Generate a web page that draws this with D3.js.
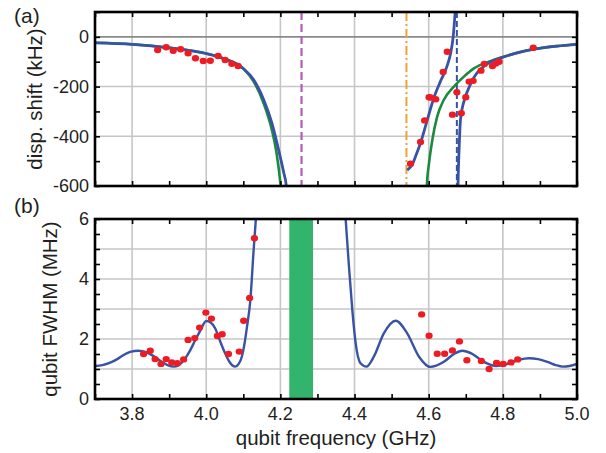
<!DOCTYPE html>
<html>
<head>
<meta charset="utf-8">
<script src="https://cdn.jsdelivr.net/npm/d3@7"></script>
<style>
  body { margin: 0; background: #fff; }
  text { font-family: "Liberation Sans", Arial, sans-serif; fill: #231f20; }
</style>
</head>
<body>
<div id="container"></div>
<script>
// ---- data ----
// x ticks (GHz)
var freqTicks = [3.8, 4.0, 4.2, 4.4, 4.6, 4.8, 5.0];
var shiftTicks = [0, -200, -400, -600];
var fwhmTicks = [0, 2, 4, 6];

// (a) dispersive shift: measured points [GHz, kHz]
var shiftPoints = [
  [3.869, -53], [3.892, -42], [3.911, -56], [3.931, -50], [3.951, -66], [3.971, -86],
  [3.992, -97], [4.011, -96], [4.032, -77], [4.051, -93], [4.069, -108], [4.086, -117],
  [4.551, -510], [4.578, -423], [4.589, -336], [4.601, -243], [4.605, -244], [4.619, -251],
  [4.639, -141], [4.650, -60], [4.664, -313], [4.676, -223], [4.688, -307], [4.700, -243],
  [4.709, -180], [4.720, -177], [4.741, -136], [4.750, -109], [4.772, -117], [4.781, -107],
  [4.790, -100], [4.882, -44]
];

// (a) full model (blue), three branches
var blueBranch1 = [[3.70, -24], [3.80, -30], [3.90, -44], [4.00, -67], [4.05, -89], [4.10, -127],
  [4.128, -173], [4.155, -253], [4.177, -346], [4.195, -453], [4.209, -546], [4.216, -600], [4.22, -680]];
var blueBranch2 = [[4.542, -536], [4.548, -528], [4.556, -513], [4.566, -475], [4.578, -427],
  [4.598, -325], [4.614, -245], [4.632, -178], [4.649, -120], [4.659, -67], [4.666, 0], [4.671, 93], [4.673, 140]];
var blueBranch3 = [[4.6782, -680], [4.679, -600], [4.682, -453], [4.686, -330], [4.695, -260],
  [4.709, -203], [4.722, -163], [4.741, -128], [4.768, -100], [4.804, -80], [4.858, -57],
  [4.903, -45], [4.948, -37], [5.0, -30]];

// (a) simple model (green), two branches
var greenBranch1 = [[3.70, -24], [3.80, -30], [3.90, -44], [4.00, -67], [4.05, -89], [4.10, -128],
  [4.128, -180], [4.155, -268], [4.177, -375], [4.19, -470], [4.20, -590], [4.205, -680]];
var greenBranch2 = [[4.593, -680], [4.595, -600], [4.601, -507], [4.610, -413], [4.623, -320],
  [4.641, -253], [4.668, -200], [4.695, -160], [4.722, -127], [4.768, -97], [4.804, -79],
  [4.858, -57], [4.903, -45], [4.948, -37], [5.0, -30]];

// (a) vertical markers (GHz)
var magentaLine = 4.257;
var orangeLine = 4.540;
var blueDashLine = 4.676;

// (b) linewidth: measured points [GHz, MHz]
var fwhmPoints = [
  [3.831, 1.50], [3.849, 1.61], [3.862, 1.33], [3.878, 1.17], [3.892, 1.33], [3.907, 1.22],
  [3.922, 1.19], [3.939, 1.32], [3.951, 1.97], [3.969, 2.03], [3.982, 2.38], [3.999, 2.88],
  [4.014, 2.68], [4.030, 2.10], [4.043, 2.16], [4.060, 1.50], [4.089, 1.58], [4.101, 2.61],
  [4.117, 3.37], [4.130, 5.36],
  [4.581, 2.82], [4.601, 2.11], [4.623, 1.51], [4.643, 1.51], [4.664, 1.62], [4.683, 1.92],
  [4.703, 1.29], [4.742, 1.27], [4.763, 1.00], [4.783, 1.20], [4.801, 1.17], [4.822, 1.22],
  [4.840, 1.32]
];

// (b) model curve, left and right of the gap
var fwhmLeft = [[3.70, 1.10], [3.72, 1.13], [3.741, 1.21], [3.76, 1.33], [3.776, 1.46],
  [3.795, 1.57], [3.817, 1.61], [3.838, 1.56], [3.858, 1.43], [3.88, 1.24], [3.897, 1.12],
  [3.912, 1.08], [3.926, 1.13], [3.942, 1.33], [3.957, 1.63], [3.970, 1.95], [3.984, 2.28],
  [4.000, 2.60], [4.012, 2.55], [4.024, 2.36], [4.038, 1.91], [4.05, 1.55], [4.062, 1.25],
  [4.078, 1.08], [4.088, 1.18], [4.096, 1.41], [4.104, 1.90], [4.11, 2.41], [4.119, 3.3],
  [4.128, 5.0], [4.134, 6.02], [4.139, 7.0]];
var fwhmRight = [[4.371, 7.0], [4.376, 6.0], [4.385, 4.41], [4.394, 2.97], [4.403, 1.86],
  [4.416, 1.19], [4.432, 1.08], [4.452, 1.41], [4.479, 2.19], [4.511, 2.61], [4.542, 2.19],
  [4.574, 1.41], [4.604, 1.07], [4.641, 1.24], [4.668, 1.50], [4.691, 1.61], [4.715, 1.52],
  [4.741, 1.30], [4.762, 1.16], [4.781, 1.10], [4.80, 1.13], [4.822, 1.21], [4.845, 1.31],
  [4.871, 1.36], [4.895, 1.33], [4.920, 1.24], [4.943, 1.13], [4.961, 1.08], [4.98, 1.10],
  [5.0, 1.17]];

// (b) shaded band (GHz)
var bandRange = [4.224, 4.288];

// ---- layout ----
var width = 606, height = 453;
var plotLeft = 95, plotRight = 577;
var panelA = {top: 12, bottom: 186};
var panelB = {top: 219, bottom: 399};

var blue = "#3953a4", green = "#1b8a3e", red = "#ed1c24";

var svg = d3.select("#container").append("svg")
    .attr("width", width)
    .attr("height", height);

var x = d3.scaleLinear().domain([3.7, 5.0]).range([plotLeft, plotRight]);
var yA = d3.scaleLinear().domain([-600, 100]).range([panelA.bottom, panelA.top]);
var yB = d3.scaleLinear().domain([0, 6]).range([panelB.bottom, panelB.top]);

var defs = svg.append("defs");
defs.append("clipPath").attr("id", "clipA").append("rect")
    .attr("x", plotLeft).attr("y", panelA.top)
    .attr("width", plotRight - plotLeft).attr("height", panelA.bottom - panelA.top);
defs.append("clipPath").attr("id", "clipB").append("rect")
    .attr("x", plotLeft).attr("y", panelB.top)
    .attr("width", plotRight - plotLeft).attr("height", panelB.bottom - panelB.top);

function drawGrid(g, y, yGrid, panel) {
    g.selectAll("line.vgrid").data(freqTicks.filter(function(d) { return d < 5.0; }))
        .enter().append("line")
        .attr("class", "vgrid")
        .attr("x1", function(d) { return x(d); }).attr("x2", function(d) { return x(d); })
        .attr("y1", panel.top).attr("y2", panel.bottom)
        .attr("stroke", "#c6c6c6").attr("stroke-width", 1.6);
    g.selectAll("line.hgrid").data(yGrid)
        .enter().append("line")
        .attr("class", "hgrid")
        .attr("x1", plotLeft).attr("x2", plotRight)
        .attr("y1", function(d) { return y(d); }).attr("y2", function(d) { return y(d); })
        .attr("stroke", "#c6c6c6").attr("stroke-width", 1.6);
}

function drawFrame(y, panel, yMinor, yLabels) {
    // inward ticks on all four sides
    var tickLen = 5;
    var g = svg.append("g");
    var xMinor = d3.range(37, 51).map(function(d) { return d / 10; });
    g.append("g")
        .attr("transform", "translate(0," + panel.bottom + ")")
        .call(d3.axisBottom(x).tickValues(xMinor).tickSize(-tickLen).tickFormat(""));
    g.append("g")
        .attr("transform", "translate(0," + panel.top + ")")
        .call(d3.axisTop(x).tickValues(xMinor).tickSize(-tickLen).tickFormat(""));
    g.append("g")
        .attr("transform", "translate(" + plotLeft + ",0)")
        .call(d3.axisLeft(y).tickValues(yMinor).tickSize(-tickLen).tickFormat(""));
    g.append("g")
        .attr("transform", "translate(" + plotRight + ",0)")
        .call(d3.axisRight(y).tickValues(yMinor).tickSize(-tickLen).tickFormat(""));
    g.selectAll(".domain").remove();
    g.selectAll(".tick line").attr("stroke", "#000").attr("stroke-width", 1.6);

    svg.append("rect")
        .attr("x", plotLeft).attr("y", panel.top)
        .attr("width", plotRight - plotLeft).attr("height", panel.bottom - panel.top)
        .attr("fill", "none").attr("stroke", "#000").attr("stroke-width", 2.6);

    svg.append("g").selectAll("text").data(yLabels)
        .enter().append("text")
        .attr("x", plotLeft - 6)
        .attr("y", function(d) { return y(d); })
        .attr("dy", "0.36em")
        .attr("text-anchor", "end")
        .style("font-size", "18px")
        .text(function(d) { return d3.format("d")(d).replace("−", "-"); });
}

// ---------- panel (a) ----------
var gA = svg.append("g");
drawGrid(gA, yA, [-200, -400], panelA);
gA.append("line")
    .attr("x1", plotLeft).attr("x2", plotRight)
    .attr("y1", yA(0)).attr("y2", yA(0))
    .attr("stroke", "#8a8a8a").attr("stroke-width", 1.8);

var plotA = svg.append("g").attr("clip-path", "url(#clipA)");

plotA.append("line")
    .attr("x1", x(magentaLine)).attr("x2", x(magentaLine))
    .attr("y1", panelA.top).attr("y2", panelA.bottom)
    .attr("stroke", "#b25db6").attr("stroke-width", 2.2)
    .attr("stroke-dasharray", "8,4");
plotA.append("line")
    .attr("x1", x(orangeLine)).attr("x2", x(orangeLine))
    .attr("y1", panelA.top).attr("y2", panelA.bottom)
    .attr("stroke", "#eea235").attr("stroke-width", 2)
    .attr("stroke-dasharray", "9,3,2,3");
plotA.append("line")
    .attr("x1", x(blueDashLine)).attr("x2", x(blueDashLine))
    .attr("y1", panelA.top).attr("y2", panelA.bottom)
    .attr("stroke", blue).attr("stroke-width", 2)
    .attr("stroke-dasharray", "6,3");

var lineA = d3.line()
    .x(function(d) { return x(d[0]); })
    .y(function(d) { return yA(d[1]); })
    .curve(d3.curveMonotoneX);

[greenBranch1, greenBranch2].forEach(function(b) {
    plotA.append("path").datum(b)
        .attr("d", lineA)
        .attr("fill", "none").attr("stroke", green).attr("stroke-width", 2.6);
});
[blueBranch1, blueBranch2, blueBranch3].forEach(function(b) {
    plotA.append("path").datum(b)
        .attr("d", lineA)
        .attr("fill", "none").attr("stroke", blue).attr("stroke-width", 2.8);
});

plotA.selectAll("ellipse.pt").data(shiftPoints)
    .enter().append("ellipse")
    .attr("class", "pt")
    .attr("cx", function(d) { return x(d[0]); })
    .attr("cy", function(d) { return yA(d[1]); })
    .attr("rx", 3.6).attr("ry", 3.2)
    .attr("fill", red);

drawFrame(yA, panelA, d3.range(-600, 101, 100), shiftTicks);

// ---------- panel (b) ----------
var gB = svg.append("g");
drawGrid(gB, yB, [1, 2, 3, 4, 5], panelB);

var plotB = svg.append("g").attr("clip-path", "url(#clipB)");

plotB.append("rect")
    .attr("x", x(bandRange[0])).attr("y", panelB.top)
    .attr("width", x(bandRange[1]) - x(bandRange[0]))
    .attr("height", panelB.bottom - panelB.top)
    .attr("fill", "#33b46c");

var lineB = d3.line()
    .x(function(d) { return x(d[0]); })
    .y(function(d) { return yB(d[1]); })
    .curve(d3.curveMonotoneX);

[fwhmLeft, fwhmRight].forEach(function(b) {
    plotB.append("path").datum(b)
        .attr("d", lineB)
        .attr("fill", "none").attr("stroke", blue).attr("stroke-width", 2.4);
});

plotB.selectAll("ellipse.pt").data(fwhmPoints)
    .enter().append("ellipse")
    .attr("class", "pt")
    .attr("cx", function(d) { return x(d[0]); })
    .attr("cy", function(d) { return yB(d[1]); })
    .attr("rx", 3.6).attr("ry", 3.2)
    .attr("fill", red);

drawFrame(yB, panelB, d3.range(0, 6.01, 0.5), fwhmTicks);

// x tick labels + titles
svg.append("g").selectAll("text").data(freqTicks)
    .enter().append("text")
    .attr("x", function(d) { return x(d); })
    .attr("y", 420)
    .attr("text-anchor", "middle")
    .style("font-size", "18px")
    .text(function(d) { return d3.format(".1f")(d); });

svg.append("text")
    .attr("x", (plotLeft + plotRight) / 2)
    .attr("y", 445)
    .attr("text-anchor", "middle")
    .style("font-size", "20.5px")
    .text("qubit frequency (GHz)");

svg.append("text")
    .attr("transform", "translate(42," + ((panelA.top + panelA.bottom) / 2) + ")rotate(-90)")
    .attr("text-anchor", "middle")
    .style("font-size", "20.5px")
    .text("disp. shift (kHz)");

svg.append("text")
    .attr("transform", "translate(57," + ((panelB.top + panelB.bottom) / 2) + ")rotate(-90)")
    .attr("text-anchor", "middle")
    .style("font-size", "20.5px")
    .text("qubit FWHM (MHz)");

svg.append("text").attr("x", 14).attr("y", 23)
    .style("font-size", "21px").text("(a)");
svg.append("text").attr("x", 14).attr("y", 213)
    .style("font-size", "21px").text("(b)");
</script>
</body>
</html>
